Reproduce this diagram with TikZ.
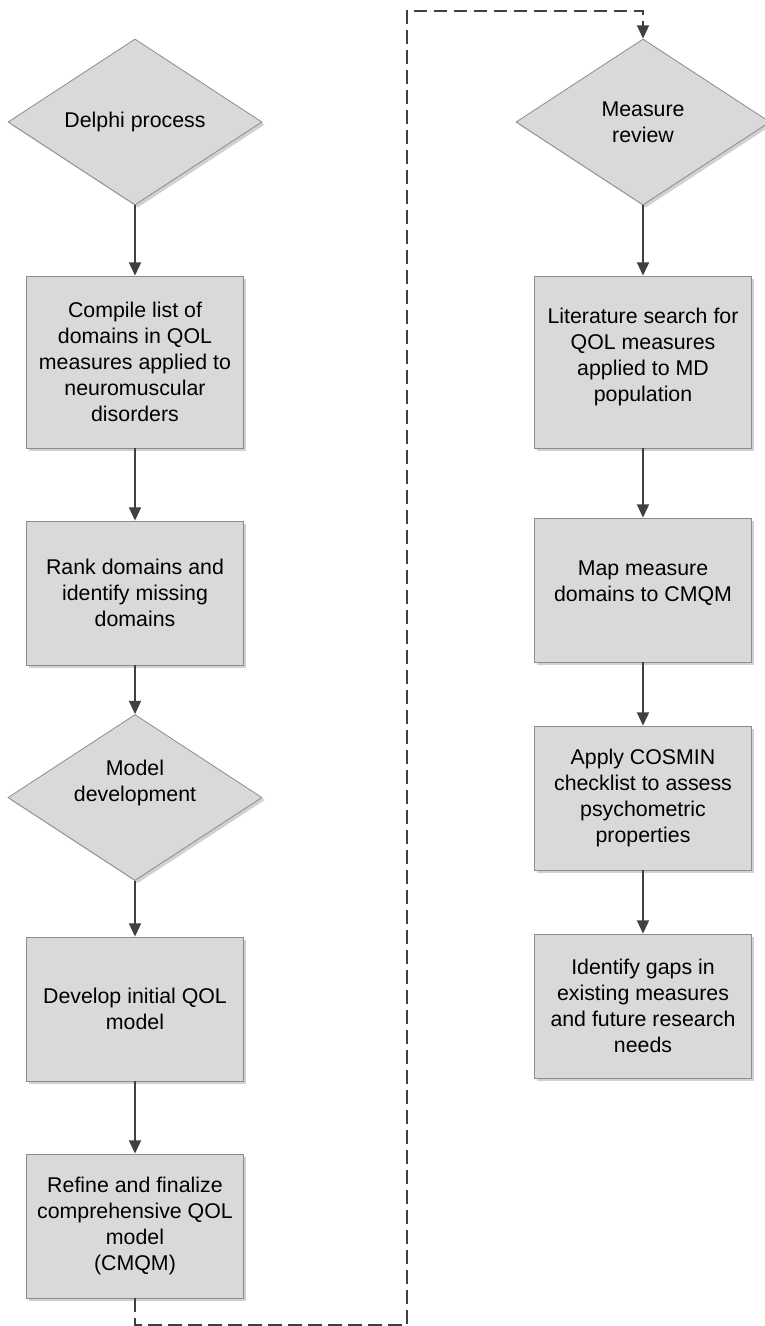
\documentclass[tikz,border=0pt]{standalone}
\usepackage{fontspec}
\setmainfont{Liberation Sans}
\usepackage{xcolor}
\usetikzlibrary{shapes.geometric, positioning, shadows, arrows.meta}

\definecolor{boxfill}{HTML}{D9D9D9}
\definecolor{boxline}{HTML}{8C8C8C}
\definecolor{linkgray}{HTML}{404040}

\begin{document}
\begin{tikzpicture}[
    box/.style={draw=boxline, line width=0.6pt, rectangle, fill=boxfill, align=center, minimum width=162.75pt, minimum height=108pt, inner sep=2pt, font=\fontsize{16pt}{19.5pt}\selectfont, drop shadow={shadow xshift=2pt, shadow yshift=-2pt, fill=black!18, opacity=1}},
    tallbox/.style={box, minimum height=129pt},
    phase/.style={draw=boxline, line width=0.6pt, diamond, aspect=1.53, fill=boxfill, align=center, minimum width=190.5pt, minimum height=124.5pt, inner sep=0pt, font=\fontsize{16pt}{19.5pt}\selectfont, drop shadow={shadow xshift=2pt, shadow yshift=-2pt, fill=black!18, opacity=1}},
    arrow/.style={-{Triangle[length=10pt, width=9pt, fill=linkgray]}, line width=1.4pt, draw=linkgray},
    dasharrow/.style={arrow, dash pattern=on 10pt off 5pt}
]
    \useasboundingbox (-101.25pt,91.5pt) rectangle (471.75pt,-903pt);

    % left column
    \node (delphi) [phase] {Delphi process};
    \node (compile) [tallbox, below of=delphi, node distance=180pt] {Compile list of\\domains in QOL\\measures applied to\\neuromuscular\\disorders};
    \node (rank) [box, below of=compile, node distance=173.25pt] {Rank domains and\\identify missing\\domains};
    \node (modeldev) [phase, below of=rank, node distance=153.4pt] {Model\\development\\[6pt]};
    \node (initial) [box, below of=modeldev, node distance=158.6pt] {Develop initial QOL\\model};
    \node (refine) [box, below of=initial, node distance=162.75pt] {Refine and finalize\\comprehensive QOL\\model\\(CMQM)};

    % right column
    \node (measure) [phase, right of=delphi, node distance=381pt] {Measure\\review};
    \node (litsearch) [tallbox, below of=measure, node distance=180pt] {Literature search for\\QOL measures\\applied to MD\\population\\[-8pt]};
    \node (mapdom) [box, below of=litsearch, node distance=171pt] {Map measure\\domains to CMQM\\[-6pt]};
    \node (cosmin) [box, below of=mapdom, node distance=156pt] {Apply COSMIN\\checklist to assess\\psychometric\\properties};
    \node (gaps) [box, below of=cosmin, node distance=156pt] {Identify gaps in\\existing measures\\and future research\\needs};

    \path [arrow] (delphi) -- (compile);
    \path [arrow] (compile) -- (rank);
    \path [arrow] (rank) -- (modeldev);
    \path [arrow] (modeldev) -- (initial);
    \path [arrow] (initial) -- (refine);

    \path [arrow] (measure) -- (litsearch);
    \path [arrow] (litsearch) -- (mapdom);
    \path [arrow] (mapdom) -- (cosmin);
    \path [arrow] (cosmin) -- (gaps);

    % dashed link between the two columns
    \coordinate (loopbot) at ([yshift=-20pt]refine.south);
    \coordinate (looptop) at ([yshift=21pt]measure.north);
    \coordinate (loopmid) at ([xshift=204pt]delphi.center);
    \draw [dasharrow] (refine.south) -- (loopbot) -- (loopbot -| loopmid) -- (looptop -| loopmid) -- (looptop) -- (measure.north);
\end{tikzpicture}
\end{document}
